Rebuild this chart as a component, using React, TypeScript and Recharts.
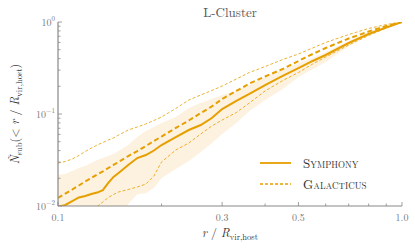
import React from 'react';
import { ComposedChart, Line, Area, XAxis, YAxis } from 'recharts';

// r / R_vir,host sample points
const radii = [0.1, 0.105, 0.11, 0.115, 0.12, 0.125, 0.13, 0.135, 0.14, 0.145, 0.15, 0.16, 0.17, 0.18, 0.19, 0.2, 0.22, 0.24, 0.26, 0.28, 0.3, 0.33, 0.36, 0.4, 0.45, 0.5, 0.55, 0.6, 0.7, 0.8, 0.9, 1.0];

const symphony = [0.0098, 0.01026, 0.0113, 0.0124, 0.01285, 0.0135, 0.014, 0.0149, 0.0178, 0.0207, 0.0228, 0.0279, 0.0332, 0.0358, 0.0401, 0.046, 0.0562, 0.067, 0.0759, 0.0905, 0.1133, 0.1385, 0.165, 0.2066, 0.259, 0.316, 0.377, 0.438, 0.591, 0.741, 0.871, 1.0];
const galacticus = [0.01222, 0.01367, 0.01511, 0.01671, 0.01846, 0.02015, 0.022, 0.02373, 0.02589, 0.02791, 0.03008, 0.03493, 0.0396, 0.0449, 0.0509, 0.0569, 0.0705, 0.085, 0.1025, 0.1207, 0.1456, 0.178, 0.2146, 0.2557, 0.3084, 0.377, 0.449, 0.5215, 0.662, 0.788, 0.905, 1.0];
const galacticusHi = [0.0293, 0.0305, 0.0324, 0.0354, 0.0391, 0.0427, 0.046, 0.049, 0.0522, 0.0549, 0.0591, 0.067, 0.0722, 0.0779, 0.085, 0.0928, 0.1148, 0.1419, 0.161, 0.18, 0.2015, 0.24, 0.2825, 0.328, 0.391, 0.449, 0.5215, 0.599, 0.731, 0.85, 0.939, 1.0];
const galacticusLo = [null, null, null, null, null, null, 0.0099, 0.01105, 0.01237, 0.01334, 0.0142, 0.0151, 0.0161, 0.0173, 0.0212, 0.0301, 0.0406, 0.0484, 0.0606, 0.0741, 0.0861, 0.1038, 0.1317, 0.178, 0.231, 0.2826, 0.3495, 0.4164, 0.562, 0.713, 0.861, 1.0];
const symphonyHi = [0.0217, 0.0223, 0.024, 0.0259, 0.0272, 0.0293, 0.0316, 0.0332, 0.0349, 0.0367, 0.0396, 0.046, 0.0562, 0.0653, 0.0722, 0.0798, 0.0928, 0.1162, 0.1317, 0.1456, 0.161, 0.178, 0.2066, 0.2524, 0.3084, 0.358, 0.406, 0.472, 0.622, 0.778, 0.905, 1.0];
const symphonyLo = [0.005, 0.005, 0.005, 0.005, 0.005, 0.005, 0.005, 0.005, 0.005, 0.005, 0.006, 0.0105, 0.0135, 0.0138, 0.0157, 0.0202, 0.0252, 0.0308, 0.0386, 0.0484, 0.0606, 0.0798, 0.108, 0.142, 0.187, 0.2524, 0.308, 0.367, 0.548, 0.722, 0.86, 1.0];

const xTicks = [0.1, 0.2, 0.3, 0.4, 0.5, 0.6, 0.7, 0.8, 0.9, 1.0];
const xLabels = ['0.1', '0.3', '0.5', '1.0'];
const yTicks = [0.01, 0.02, 0.03, 0.04, 0.05, 0.06, 0.07, 0.08, 0.09, 0.1, 0.2, 0.3, 0.4, 0.5, 0.6, 0.7, 0.8, 0.9, 1];
const yLabels = [0.01, 0.1, 1];
const seriesNames = ['Symphony', 'Galacticus'];

const ORANGE = '#e69f00';
const BAND = '#fdf1df';
const SERIF = '"Latin Modern Roman", "Liberation Serif", serif';

const data = radii.map((r, i) => ({
  r,
  symphony: symphony[i],
  galacticus: galacticus[i],
  galHi: galacticusHi[i],
  galLo: galacticusLo[i],
  band: [symphonyLo[i], symphonyHi[i]],
}));

const fmtX = (v: number) => {
  const s = v.toFixed(1);
  return xLabels.includes(s) ? s : '';
};

const BottomTick = (props: any) => {
  const { x, y, payload } = props;
  const label = fmtX(payload.value);
  const len = label ? 4 : 2.5;
  return (
    <g>
      <line x1={x} x2={x} y1={y} y2={y - len} stroke="#888" strokeWidth={0.8} />
      {label && (
        <text x={x} y={y + 15} textAnchor="middle" fontSize={10} fill="#777" fontFamily={SERIF}>
          {label}
        </text>
      )}
    </g>
  );
};

const TopTick = (props: any) => {
  const { x, y, payload } = props;
  const len = fmtX(payload.value) ? 4 : 2.5;
  return <line x1={x} x2={x} y1={y} y2={y + len} stroke="#888" strokeWidth={0.8} />;
};

const isMajorY = (v: number) => yLabels.some(l => Math.abs(l - v) < 1e-9);

const LeftTick = (props: any) => {
  const { x, y, payload } = props;
  const major = isMajorY(payload.value);
  const exp = Math.round(Math.log10(payload.value));
  return (
    <g>
      <line x1={x} x2={x + (major ? 4 : 2.5)} y1={y} y2={y} stroke="#888" strokeWidth={0.8} />
      {major && (
        <text x={x - 3} y={y + 3.5} textAnchor="end" fontSize={10} fill="#777" fontFamily={SERIF}>
          10
          <tspan dy={-5} fontSize={7}>
            {exp === 0 ? '0' : '\u2212' + Math.abs(exp)}
          </tspan>
        </text>
      )}
    </g>
  );
};

const RightTick = (props: any) => {
  const { x, y, payload } = props;
  const major = isMajorY(payload.value);
  return <line x1={x} x2={x - (major ? 4 : 2.5)} y1={y} y2={y} stroke="#888" strokeWidth={0.8} />;
};

const App: React.FC = () => {
  return (
    <div style={{ position: 'absolute', left: 0, top: 0, width: 415, height: 249, background: '#fff', fontFamily: SERIF }}>
      <ComposedChart
        width={415}
        height={249}
        data={data}
        margin={{ top: 22, right: 13, bottom: 13, left: 8 }}
      >
        <XAxis
          xAxisId="bottom"
          dataKey="r"
          type="number"
          scale="log"
          domain={[0.1, 1]}
          ticks={xTicks}
          interval={0}
          allowDataOverflow
          height={30}
          tickSize={0}
          tickMargin={0}
          tick={<BottomTick />}
          axisLine={{ stroke: '#888', strokeWidth: 1.2 }}
          tickLine={false}
        />
        <XAxis
          xAxisId="top"
          orientation="top"
          dataKey="r"
          type="number"
          scale="log"
          domain={[0.1, 1]}
          ticks={xTicks}
          interval={0}
          allowDataOverflow
          height={0}
          tickSize={0}
          tickMargin={0}
          tick={<TopTick />}
          axisLine={{ stroke: '#888', strokeWidth: 1.6 }}
          tickLine={false}
        />
        <YAxis
          yAxisId="left"
          type="number"
          scale="log"
          domain={[0.01, 1]}
          ticks={yTicks}
          interval={0}
          allowDataOverflow
          width={50}
          tickSize={0}
          tickMargin={0}
          tick={<LeftTick />}
          axisLine={{ stroke: '#888', strokeWidth: 1.2 }}
          tickLine={false}
        />
        <YAxis
          yAxisId="right"
          orientation="right"
          type="number"
          scale="log"
          domain={[0.01, 1]}
          ticks={yTicks}
          interval={0}
          allowDataOverflow
          width={0}
          tickSize={0}
          tickMargin={0}
          tick={<RightTick />}
          axisLine={{ stroke: '#333', strokeWidth: 1.2 }}
          tickLine={false}
        />
        <Area
          xAxisId="bottom"
          yAxisId="left"
          dataKey="band"
          type="linear"
          fill={BAND}
          fillOpacity={1}
          stroke="none"
          isAnimationActive={false}
        />
        <Line xAxisId="bottom" yAxisId="left" dataKey="galHi" type="linear" stroke={ORANGE} strokeWidth={0.8} strokeDasharray="3 2" dot={false} isAnimationActive={false} />
        <Line xAxisId="bottom" yAxisId="left" dataKey="galLo" type="linear" stroke={ORANGE} strokeWidth={0.8} strokeDasharray="3 2" dot={false} isAnimationActive={false} />
        <Line xAxisId="bottom" yAxisId="left" dataKey="galacticus" type="linear" stroke={ORANGE} strokeWidth={2} strokeDasharray="5 3" dot={false} isAnimationActive={false} />
        <Line xAxisId="bottom" yAxisId="left" dataKey="symphony" type="linear" stroke={ORANGE} strokeWidth={2} dot={false} isAnimationActive={false} />
      </ComposedChart>
      <svg width={415} height={249} style={{ position: 'absolute', left: 0, top: 0, pointerEvents: 'none' }}>
        <text x={230} y={17} textAnchor="middle" fontSize={13} fill="#555" fontFamily={SERIF}>
          L-Cluster
        </text>
        <g>
          <line x1={260} x2={291} y1={163} y2={163} stroke={ORANGE} strokeWidth={1.8} />
          <text x={303} y={168} fontSize={13} fill="#333" fontFamily={SERIF} style={{ fontVariant: 'small-caps' }}>
            {seriesNames[0]}
          </text>
          <line x1={260} x2={291} y1={184} y2={184} stroke={ORANGE} strokeWidth={1.6} strokeDasharray="3 2" />
          <text x={303} y={189} fontSize={13} fill="#333" fontFamily={SERIF} style={{ fontVariant: 'small-caps' }}>
            {seriesNames[1]}
          </text>
        </g>
        <text x={230} y={237} textAnchor="middle" fontSize={12} fill="#333" fontFamily={SERIF}>
          <tspan fontStyle="italic">r</tspan>
          <tspan> / </tspan>
          <tspan fontStyle="italic">R</tspan>
          <tspan fontSize={8.5} dy={2.5}>vir,host</tspan>
        </text>
        <text transform="translate(19,114) rotate(-90)" textAnchor="middle" fontSize={12} fill="#333" fontFamily={SERIF}>
          <tspan fontStyle="italic">{'N\u0303'}</tspan>
          <tspan fontSize={8.5} dy={2.5}>sub</tspan>
          <tspan dy={-2.5}>{'(< '}</tspan>
          <tspan fontStyle="italic">r</tspan>
          <tspan> / </tspan>
          <tspan fontStyle="italic">R</tspan>
          <tspan fontSize={8.5} dy={2.5}>vir,host</tspan>
          <tspan dy={-2.5}>)</tspan>
        </text>
      </svg>
    </div>
  );
};

export default App;
